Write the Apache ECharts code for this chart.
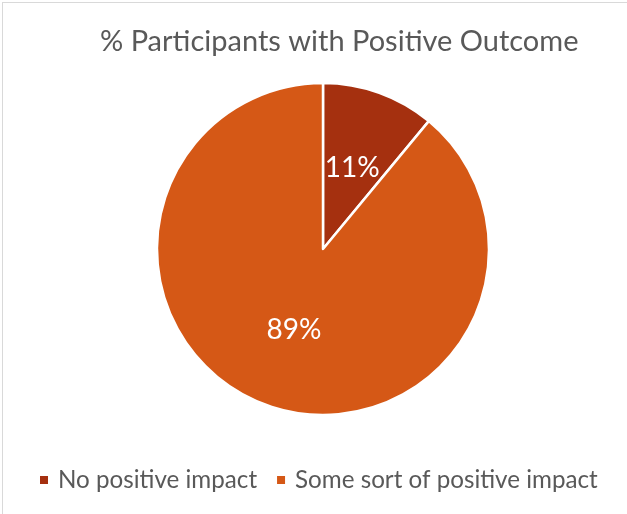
<!DOCTYPE html>
<html>
<head>
<meta charset="utf-8">
<script src="https://cdn.jsdelivr.net/npm/echarts@6/dist/echarts.min.js"></script>
<style>
html,body{margin:0;padding:0;background:#fff;}
#frame{position:absolute;left:2px;top:2px;width:640px;height:530px;border-left:1px solid #d9d9d9;border-top:1px solid #d9d9d9;}
#chart{position:absolute;left:0;top:0;width:627px;height:514px;}
</style>
</head>
<body>
<div id="frame"></div>
<div id="chart"></div>
<script>
var titleText = '% Participants with Positive Outcome';
var categories = ['No positive impact', 'Some sort of positive impact'];
var values = [11, 89];
var colors = ['#A5300F', '#D55816'];

var chart = echarts.init(document.getElementById('chart'), null, {renderer: 'canvas'});
chart.setOption({
  backgroundColor: 'transparent',
  animation: false,
  title: {
    text: titleText,
    left: 95,
    top: 22,
    textStyle: {fontFamily: 'Lato', fontWeight: 'normal', fontSize: 29, color: '#595959'}
  },
  legend: {
    top: 468,
    left: 38,
    padding: 0,
    icon: 'rect',
    itemWidth: 10,
    itemHeight: 10,
    itemGap: 18,
    textStyle: {fontFamily: 'Lato', fontSize: 24.2, color: '#595959', padding: [0, 0, 0, 4]},
    data: categories
  },
  series: [{
    type: 'pie',
    center: [323, 249],
    radius: 166,
    startAngle: 90,
    clockwise: true,
    label: {
      show: true,
      position: 'inner',
      formatter: '{c}%',
      fontFamily: 'Lato',
      fontSize: 28,
      color: '#ffffff'
    },
    labelLine: {show: false},
    itemStyle: {borderColor: '#ffffff', borderWidth: 2.5},
    emphasis: {disabled: true},
    data: categories.map(function (c, i) {
      return {name: c, value: values[i], itemStyle: {color: colors[i]}};
    })
  }]
});
</script>
</body>
</html>
